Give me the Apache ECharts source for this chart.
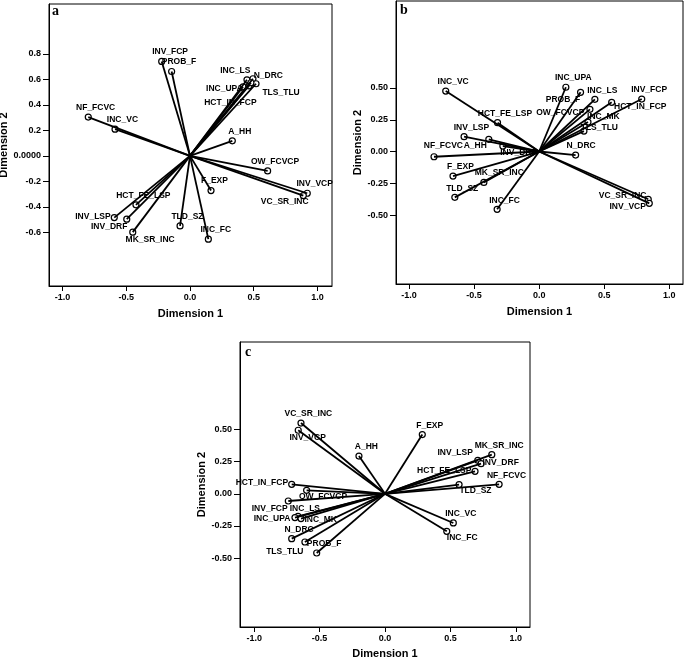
<!DOCTYPE html>
<html><head><meta charset="utf-8">
<script src="https://cdn.jsdelivr.net/npm/echarts@6/dist/echarts.min.js"></script>
<style>html,body{margin:0;padding:0;background:#fff}#c{width:685px;height:659px}</style>
</head><body><div id="c"></div>
<script>
// ---- tick labels ----
const xTicks = [-1.0, -0.5, 0.0, 0.5, 1.0];
const yTicksA = [-0.6, -0.4, -0.2, 0.0, 0.2, 0.4, 0.6, 0.8];
const yTicksBC = [-0.5, -0.25, 0.0, 0.25, 0.5];

// ---- panel a ----
const varsA = ['INV_FCP','PROB_F','INC_LS','N_DRC','TLS_TLU','INC_UPA','HCT_IN_FCP','INC_MK','A_HH','NF_FCVC','INC_VC','OW_FCVCP','INV_VCP','VC_SR_INC','F_EXP','HCT_FE_LSP','INV_LSP','INV_DRF','MK_SR_INC','TLD_SZ','INC_FC'];
const dim1A = [-0.222,-0.144,0.447,0.494,0.518,0.416,0.463,0.478,0.332,-0.798,-0.588,0.609,0.920,0.889,0.165,-0.424,-0.594,-0.496,-0.449,-0.078,0.144];
const dim2A = [0.740,0.661,0.596,0.604,0.565,0.541,0.549,0.573,0.118,0.304,0.209,-0.118,-0.293,-0.311,-0.272,-0.384,-0.484,-0.496,-0.598,-0.549,-0.653];

// ---- panel b ----
const varsB = ['INC_VC','INC_UPA','PROB_F','INC_LS','INV_FCP','HCT_IN_FCP','OW_FCVCP','INC_MK','TLS_TLU','HCT_FE_LSP','INV_LSP','NF_FCVC','A_HH','INV_DRF','N_DRC','F_EXP','MK_SR_INC','TLD_SZ','INC_FC','VC_SR_INC','INV_VCP'];
const dim1B = [-0.718,0.205,0.318,0.428,0.788,0.557,0.390,0.375,0.344,-0.320,-0.577,-0.808,-0.387,-0.279,0.280,-0.662,-0.425,-0.648,-0.323,0.838,0.846];
const dim2B = [0.476,0.506,0.466,0.411,0.413,0.387,0.332,0.232,0.161,0.227,0.117,-0.041,0.096,0.043,-0.028,-0.193,-0.243,-0.361,-0.455,-0.376,-0.408];

// ---- panel c ----
const varsC = ['VC_SR_INC','INV_VCP','A_HH','F_EXP','INV_LSP','MK_SR_INC','INV_DRF','HCT_FE_LSP','NF_FCVC','TLD_SZ','HCT_IN_FCP','OW_FCVCP','INV_FCP','INC_LS','INC_UPA','INC_MK','N_DRC','TLS_TLU','PROB_F','INC_VC','INC_FC'];
const dim1C = [-0.642,-0.663,-0.199,0.285,0.709,0.816,0.734,0.688,0.872,0.566,-0.713,-0.599,-0.739,-0.665,-0.688,-0.642,-0.713,-0.612,-0.522,0.522,0.472];
const dim2C = [0.551,0.495,0.294,0.461,0.261,0.305,0.235,0.175,0.074,0.072,0.074,0.027,-0.056,-0.175,-0.185,-0.193,-0.349,-0.375,-0.461,-0.227,-0.292];

// ---- label placement (pixel offsets from the point) ----
const DEF = [8, -8.5, 'center'];
const placeA = {
  INV_FCP:[9,-9,'center'], PROB_F:[8,-9,'center'], INC_LS:[-11,-9,'center'], N_DRC:[16,-3,'center'],
  TLS_TLU:[7,10,'left'], INC_UPA:[-18,2,'center'], HCT_IN_FCP:[-18,17,'center'], INC_MK:null,
  VC_SR_INC:[-18,7,'center'], INV_LSP:[-3,0,'right'], INV_DRF:[-17,8,'center'], MK_SR_INC:[18,8,'center'],
  F_EXP:[4,-9,'center']
};
const placeB = {
  PROB_F:[-17,8,'center'], HCT_IN_FCP:[3,5,'left'], OW_FCVCP:[-5,4,'right'], INC_MK:[16,-5,'center'],
  TLS_TLU:[16,-3,'center'], A_HH:[-13,7,'center'], INV_DRF:[-2,7,'left'], N_DRC:[6,-9,'center'],
  MK_SR_INC:[16,-9,'center'], VC_SR_INC:[-25,-3,'center'], INV_VCP:[-21,4,'center'], NF_FCVC:[10,-10,'center']
};
const placeC = {
  INV_VCP:[10,8,'center'], INV_LSP:[-22,-7,'center'], INV_DRF:[2,0,'left'], HCT_FE_LSP:[-3,0,'right'],
  TLD_SZ:[17,7,'center'], HCT_IN_FCP:[-3,-1.5,'right'], OW_FCVCP:[17,7,'center'], INV_FCP:[-18,8,'center'],
  INC_LS:[7.5,-7,'center'], INC_UPA:[-4,2,'right'], INC_MK:[4,2,'left'], TLS_TLU:[-19.5,10,'center'],
  INC_FC:[16,7,'center']
};

const FONT = "'Liberation Sans Narrow','Liberation Sans',Arial,sans-serif";
const AXFONT = "'Liberation Sans',Arial,sans-serif";

function panelSeries(idx, names, d1, d2, place) {
  const lines = {
    type: 'lines', coordinateSystem: 'cartesian2d', xAxisIndex: idx, yAxisIndex: idx,
    polyline: false, silent: true, z: 3,
    lineStyle: { color: '#000', width: 1.8, opacity: 1 },
    data: names.map((n, i) => ({ coords: [[0, 0], [d1[i], d2[i]]] }))
  };
  const pts = {
    type: 'scatter', xAxisIndex: idx, yAxisIndex: idx, z: 2,
    symbol: 'circle', symbolSize: 6,
    itemStyle: { color: '#fff', borderColor: '#000', borderWidth: 1.2, opacity: 1 },
    label: { show: true, formatter: '{b}', fontSize: 8.5, fontWeight: 'bold', fontFamily: FONT, color: '#000', verticalAlign: 'middle' },
    data: names.map((n, i) => {
      const p = (n in place) ? place[n] : DEF;
      if (!p) return { name: n, value: [d1[i], d2[i]], label: { show: false } };
      return { name: n, value: [d1[i], d2[i]], label: { position: [3 + p[0], 3 + p[1]], align: p[2] } };
    })
  };
  return [lines, pts];
}

function xAx(idx, min, max, gap) {
  return {
    type: 'value', gridIndex: idx, min: min, max: max,
    axisLine: { show: true, onZero: false, lineStyle: { color: '#000', width: 1 } },
    axisTick: { show: true, length: 5, customValues: xTicks, lineStyle: { color: '#000', width: 1 } },
    axisLabel: { customValues: xTicks, formatter: v => v.toFixed(1), fontSize: 9, fontWeight: 'bold', fontFamily: AXFONT, color: '#000', margin: 7 },
    splitLine: { show: false },
    name: 'Dimension 1', nameLocation: 'middle', nameGap: gap,
    nameTextStyle: { fontSize: 11, fontWeight: 'bold', fontFamily: AXFONT, color: '#000' }
  };
}
function yAx(idx, min, max, ticks, fmt, gap) {
  return {
    type: 'value', gridIndex: idx, min: min, max: max,
    axisLine: { show: true, onZero: false, lineStyle: { color: '#000', width: 1 } },
    axisTick: { show: true, length: 6, customValues: ticks, lineStyle: { color: '#000', width: 1 } },
    axisLabel: { customValues: ticks, formatter: fmt, fontSize: 9, fontWeight: 'bold', fontFamily: AXFONT, color: '#000', margin: 8 },
    splitLine: { show: false },
    name: 'Dimension 2', nameLocation: 'middle', nameGap: gap, nameRotate: 90,
    nameTextStyle: { fontSize: 11, fontWeight: 'bold', fontFamily: AXFONT, color: '#000' }
  };
}
const gridBase = { show: true, borderColor: '#000', borderWidth: 1, backgroundColor: 'transparent', containLabel: false, outerBoundsMode: 'none' };

const chart = echarts.init(document.getElementById('c'), null, { renderer: 'canvas' });
chart.setOption({
  animation: false,
  backgroundColor: '#fff',
  grid: [
    Object.assign({ left: 49, top: 4, width: 283, height: 282 }, gridBase),
    Object.assign({ left: 396, top: 1, width: 287, height: 283 }, gridBase),
    Object.assign({ left: 240, top: 342, width: 290, height: 285 }, gridBase)
  ],
  xAxis: [
    xAx(0, -1.106, 1.114, 22),
    xAx(1, -1.10, 1.105, 22),
    xAx(2, -1.108, 1.108, 21)
  ],
  yAxis: [
    yAx(0, -1.02, 1.19, yTicksA, v => (v === 0 ? '0.0000' : v.toFixed(1)), 34),
    yAx(1, -1.043, 1.185, yTicksBC, v => v.toFixed(2), 25),
    yAx(2, -1.037, 1.182, yTicksBC, v => v.toFixed(2), 32)
  ],
  graphic: [
    { type: 'text', left: 52, top: 4, style: { text: 'a', font: "bold 14px 'Liberation Serif', serif", fill: '#000' } },
    { type: 'text', left: 400, top: 3, style: { text: 'b', font: "bold 14px 'Liberation Serif', serif", fill: '#000' } },
    { type: 'text', left: 245, top: 345, style: { text: 'c', font: "bold 14px 'Liberation Serif', serif", fill: '#000' } }
  ],
  series: [].concat(
    panelSeries(0, varsA, dim1A, dim2A, placeA),
    panelSeries(1, varsB, dim1B, dim2B, placeB),
    panelSeries(2, varsC, dim1C, dim2C, placeC)
  )
});
</script>
</body></html>
